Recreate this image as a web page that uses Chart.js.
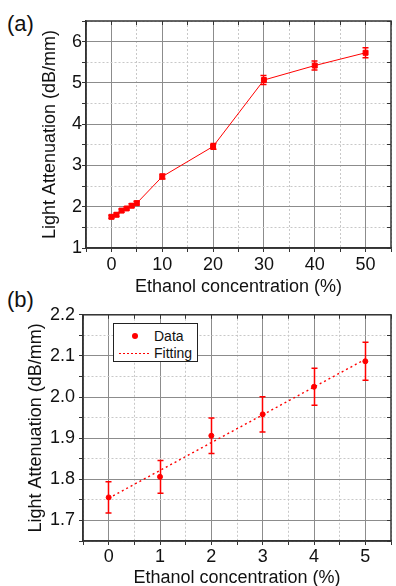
<!DOCTYPE html>
<html>
<head>
<meta charset="utf-8">
<script src="https://cdn.jsdelivr.net/npm/chart.js@4.4.1/dist/chart.umd.min.js"></script>
<style>
  html, body { margin: 0; padding: 0; background: #fff; overflow: hidden; }
  body { width: 396px; height: 586px; position: relative; font-family: 'Liberation Sans', Arial, sans-serif; color: #111; }
  canvas { position: absolute; left: 0; }
  #chartA { top: 0; }
  #chartB { top: 300px; }
  .panel { position: absolute; left: 7px; font-size: 22px; line-height: 1; }
  #legendB { position: absolute; left: 113px; top: 323px; width: 83px; height: 37px; border: 1px solid #222; background: #fff; font-size: 14px; }
  #legendB .row { position: absolute; left: 0; width: 83px; height: 16px; line-height: 16px; }
  #legendB .txt { position: absolute; left: 40px; white-space: nowrap; }
  #legendB .dot { position: absolute; left: 18px; top: 5px; width: 6px; height: 6px; border-radius: 50%; }
  #legendB .dash { position: absolute; left: 5px; top: 8px; width: 32px; height: 1px; }
</style>
</head>
<body>
<div class="panel" style="top:13px">(a)</div>
<div class="panel" style="top:289px">(b)</div>
<canvas id="chartA" width="396" height="300"></canvas>
<canvas id="chartB" width="396" height="286"></canvas>
<div id="legendB"></div>
<script>
// panel (a): attenuation vs ethanol concentration, 0-50 %
const concA = [0, 1, 2, 3, 4, 5, 10, 20, 30, 40, 50];
const attenA = [1.756, 1.806, 1.906, 1.958, 2.025, 2.087, 2.73, 3.46, 5.07, 5.42, 5.73];
const errA = [0.04, 0.04, 0.04, 0.04, 0.045, 0.045, 0.06, 0.07, 0.11, 0.11, 0.12];

// panel (b): zoom on 0-5 % with linear fit
const concB = [0, 1, 2, 3, 4, 5];
const attenB = [1.756, 1.806, 1.906, 1.958, 2.025, 2.087];
const errB = [0.038, 0.04, 0.043, 0.043, 0.045, 0.046];
const fitConc = [0, 5];
const fitAtten = [1.754, 2.092];

// tick positions and which of them carry labels
const xTicksA = [-5, 0, 5, 10, 15, 20, 25, 30, 35, 40, 45, 50, 55];
const xLabelsA = [0, 10, 20, 30, 40, 50];
const yTicksA = [1, 1.5, 2, 2.5, 3, 3.5, 4, 4.5, 5, 5.5, 6, 6.5];
const yLabelsA = [1, 2, 3, 4, 5, 6];
const xTicksB = [-0.5, 0, 0.5, 1, 1.5, 2, 2.5, 3, 3.5, 4, 4.5, 5, 5.5];
const xLabelsB = [0, 1, 2, 3, 4, 5];
const yTicksB = [1.65, 1.7, 1.75, 1.8, 1.85, 1.9, 1.95, 2.0, 2.05, 2.1, 2.15, 2.2];
const yLabelsB = [1.7, 1.8, 1.9, 2.0, 2.1, 2.2];

const xTitle = 'Ethanol concentration (%)';
const yTitle = 'Light Attenuation (dB/mm)';

Chart.defaults.font.family = "'Liberation Sans', Arial, sans-serif";
Chart.defaults.color = '#111';

// same snapping Chart.js uses for 1px grid lines
const snap = p => Math.round(p - 0.5) + 0.5;

function axis(tickList, labelList, decimals, o) {
    const isMajor = v => labelList.some(l => Math.abs(l - v) < 1e-9);
    return {
        type: 'linear',
        min: tickList[0],
        max: tickList[tickList.length - 1],
        afterBuildTicks: s => { s.ticks = tickList.map(v => ({ value: v })); },
        afterFit: s => {
            if (s.isHorizontal()) s.height = o.size; else s.width = o.size;
        },
        ticks: {
            autoSkip: false,
            maxRotation: 0,
            padding: o.pad,
            font: { size: 18 },
            callback: v => isMajor(v) ? v.toFixed(decimals) : ''
        },
        grid: {
            color: c => c.tick && isMajor(c.tick.value) ? '#8c8c8c' : '#c8c8c8',
            lineWidth: 1,
            tickLength: 4,
            tickColor: '#333'
        },
        border: {
            color: '#333',
            width: 1.5,
            dash: c => c.tick && !isMajor(c.tick.value) ? [2, 2] : []
        },
        title: {
            display: true,
            text: o.title,
            font: { size: 18, lineHeight: 1 },
            padding: o.titlePad
        }
    };
}

// box round the plot area, with short inward ticks on top and right
const frame = {
    id: 'frame',
    afterDatasetsDraw(chart) {
        const { ctx, chartArea: a, scales: { x, y } } = chart;
        ctx.save();
        ctx.strokeStyle = '#333';
        ctx.lineWidth = 1.5;
        ctx.strokeRect(a.left, a.top, a.right - a.left, a.bottom - a.top);
        ctx.lineWidth = 1;
        ctx.beginPath();
        x.ticks.forEach(t => {
            const px = snap(x.getPixelForValue(t.value));
            ctx.moveTo(px, a.top); ctx.lineTo(px, a.top + 4);
        });
        y.ticks.forEach(t => {
            const py = snap(y.getPixelForValue(t.value));
            ctx.moveTo(a.right, py); ctx.lineTo(a.right - 4, py);
        });
        ctx.stroke();
        ctx.restore();
    }
};

const errorBars = {
    id: 'errorBars',
    afterDatasetsDraw(chart) {
        const { ctx, scales: { x, y } } = chart;
        chart.data.datasets.forEach(ds => {
            if (!ds.errors) return;
            ctx.save();
            ctx.strokeStyle = '#ff0000';
            ctx.lineWidth = 1.5;
            ds.data.forEach((p, i) => {
                const px = snap(x.getPixelForValue(p.x));
                const top = y.getPixelForValue(p.y + ds.errors[i]);
                const bot = y.getPixelForValue(p.y - ds.errors[i]);
                ctx.beginPath();
                ctx.moveTo(px, top); ctx.lineTo(px, bot);
                ctx.moveTo(px - ds.cap, top); ctx.lineTo(px + ds.cap, top);
                ctx.moveTo(px - ds.cap, bot); ctx.lineTo(px + ds.cap, bot);
                ctx.stroke();
            });
            ctx.restore();
        });
    }
};

const points = (xs, ys) => xs.map((v, i) => ({ x: v, y: ys[i] }));

new Chart(document.getElementById('chartA'), {
    type: 'scatter',
    data: {
        datasets: [{
            label: 'Data',
            data: points(concA, attenA),
            errors: errA,
            cap: 3,
            showLine: true,
            borderColor: '#ff0000',
            backgroundColor: '#ff0000',
            borderWidth: 1,
            pointStyle: 'rect',
            pointRadius: 3.5
        }]
    },
    options: {
        responsive: false,
        animation: false,
        devicePixelRatio: 1,
        layout: { padding: { left: 0, right: 2, top: 21, bottom: 0 } },
        plugins: { legend: { display: false }, tooltip: { enabled: false } },
        scales: {
            x: axis(xTicksA, xLabelsA, 0, { size: 52, pad: 2, title: xTitle, titlePad: { top: 0, bottom: 4 } }),
            y: axis(yTicksA, yLabelsA, 0, { size: 86, pad: 0, title: yTitle, titlePad: { top: 41, bottom: 0 } })
        }
    },
    plugins: [frame, errorBars]
});

const chartB = new Chart(document.getElementById('chartB'), {
    type: 'scatter',
    data: {
        datasets: [{
            label: 'Data',
            data: points(concB, attenB),
            errors: errB,
            cap: 3,
            showLine: false,
            borderColor: '#ff0000',
            backgroundColor: '#ff0000',
            pointRadius: 2.5
        }, {
            label: 'Fitting',
            data: points(fitConc, fitAtten),
            showLine: true,
            borderColor: '#ff0000',
            borderWidth: 1.4,
            borderDash: [2, 3],
            pointRadius: 0
        }]
    },
    options: {
        responsive: false,
        animation: false,
        devicePixelRatio: 1,
        layout: { padding: { left: 0, right: 2, top: 14, bottom: 0 } },
        plugins: { legend: { display: false }, tooltip: { enabled: false } },
        scales: {
            x: axis(xTicksB, xLabelsB, 0, { size: 45, pad: 1, title: xTitle, titlePad: { top: 0, bottom: -1.5 } }),
            y: axis(yTicksB, yLabelsB, 1, { size: 83, pad: 4, title: yTitle, titlePad: { top: 27, bottom: 0 } })
        }
    },
    plugins: [frame, errorBars]
});

// legend box for panel (b), built from the chart's datasets
const legend = document.getElementById('legendB');
chartB.data.datasets.forEach((ds, i) => {
    const row = document.createElement('div');
    row.className = 'row';
    row.style.top = (4 + i * 17) + 'px';
    const mark = document.createElement('div');
    if (ds.showLine) {
        mark.className = 'dash';
        mark.style.background = 'repeating-linear-gradient(to right, ' + ds.borderColor +
            ' 0 2px, transparent 2px 4px)';
    } else {
        mark.className = 'dot';
        mark.style.background = ds.backgroundColor;
    }
    const txt = document.createElement('span');
    txt.className = 'txt';
    txt.textContent = ds.label;
    row.appendChild(mark);
    row.appendChild(txt);
    legend.appendChild(row);
});
</script>
</body>
</html>
